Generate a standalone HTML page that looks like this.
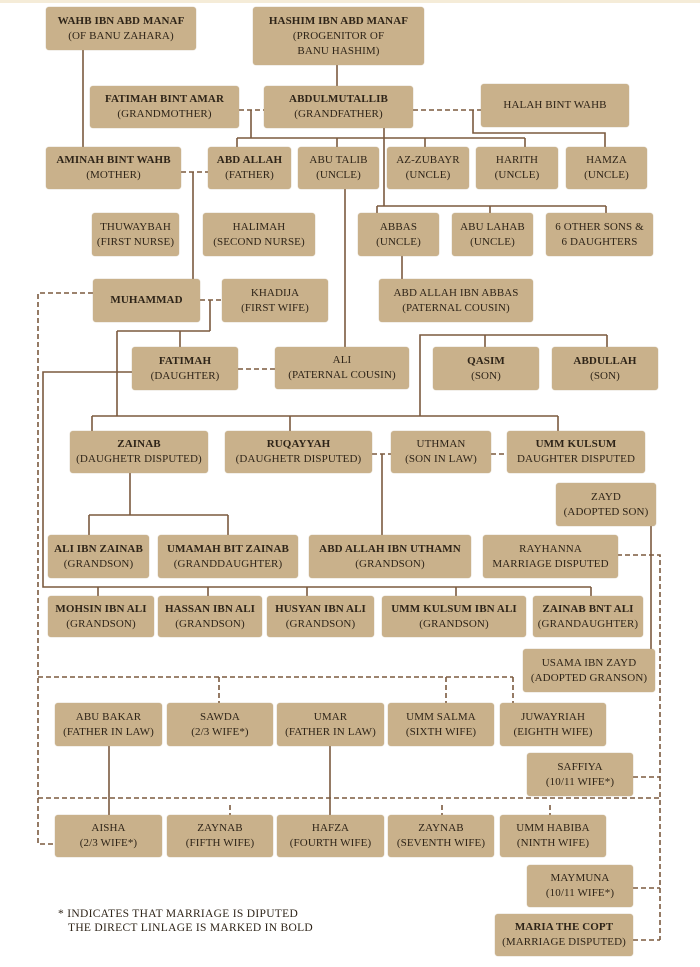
<!DOCTYPE html>
<html><head><meta charset="utf-8"><style>
body{margin:0;width:700px;height:967px;background:#fff;position:relative;overflow:hidden;font-family:"Liberation Serif",serif;}
.top{position:absolute;left:0;top:0;width:700px;height:3px;background:#f5ecd8;}
.b{position:absolute;background:#c9b18b;border-radius:3px;box-shadow:0 0 1px #b09a75;display:flex;flex-direction:column;justify-content:center;align-items:center;text-align:center;color:#2e2418;font-size:11px;line-height:15px;letter-spacing:0.1px;white-space:nowrap;}
.b b{font-weight:bold;}
svg{position:absolute;left:0;top:0;}
.leg{position:absolute;font-size:11.5px;color:#2e2418;letter-spacing:0.3px;white-space:nowrap;}
</style></head><body>
<div class="top"></div>
<svg width="700" height="967">
<g stroke="#7b5a3f" stroke-width="1.6" fill="none">
<path d="M83 50V147"/>
<path d="M337 65V86"/>
<path d="M251 110V138M237 138H525M237 138V147M337 138V147M425 138V147M525 138V147"/>
<path d="M473 110V133H605V147"/>
<path d="M384 128V206M377 206H606M377 206V213M490 206V213M606 206V213"/>
<path d="M402 256V279"/>
<path d="M193 172V279"/>
<path d="M210 300V331M117 331H210M180 331V347M117 331V416"/>
<path d="M345 189V347"/>
<path d="M420 416V335H607M485 335V347M607 335V347"/>
<path d="M92 416H558M92 416V431M290 416V431M558 416V431"/>
<path d="M382 454V535"/>
<path d="M130 473V515M89 515H228M89 515V535M228 515V535"/>
<path d="M132 372H43V587H591M98 587V596M208 587V596M307 587V596M456 587V596M591 587V596"/>
<path d="M651 526V649"/>
<path d="M109 746V815M330 746V815"/>
</g>
<g stroke="#7b5a3f" stroke-width="1.6" fill="none" stroke-dasharray="5,3">
<path d="M239 110H264"/>
<path d="M413 110H481"/>
<path d="M181 172H208"/>
<path d="M200 300H222"/>
<path d="M93 293H38V844H55"/>
<path d="M238 369H275"/>
<path d="M372 454H391M491 454H507"/>
<path d="M617 555H660V940"/>
<path d="M38 677H513M219 677V704M446 677V704M513 677V704"/>
<path d="M633 777H660"/>
<path d="M38 798H660M230 805V815M442 805V815M550 805V815"/>
<path d="M633 888H660"/>
<path d="M633 940H660"/>
</g>
</svg>
<div class="b" style="left:46px;top:7px;width:150px;height:43px"><b>WAHB IBN ABD MANAF</b>(OF BANU ZAHARA)</div>
<div class="b" style="left:253px;top:7px;width:171px;height:58px"><b>HASHIM IBN ABD MANAF</b>(PROGENITOR OF<br>BANU HASHIM)</div>
<div class="b" style="left:90px;top:86px;width:149px;height:42px"><b>FATIMAH BINT AMAR</b>(GRANDMOTHER)</div>
<div class="b" style="left:264px;top:86px;width:149px;height:42px"><b>ABDULMUTALLIB</b>(GRANDFATHER)</div>
<div class="b" style="left:481px;top:84px;width:148px;height:43px">HALAH BINT WAHB</div>
<div class="b" style="left:46px;top:147px;width:135px;height:42px"><b>AMINAH BINT WAHB</b>(MOTHER)</div>
<div class="b" style="left:208px;top:147px;width:83px;height:42px"><b>ABD ALLAH</b>(FATHER)</div>
<div class="b" style="left:298px;top:147px;width:81px;height:42px">ABU TALIB<br>(UNCLE)</div>
<div class="b" style="left:387px;top:147px;width:82px;height:42px">AZ-ZUBAYR<br>(UNCLE)</div>
<div class="b" style="left:476px;top:147px;width:82px;height:42px">HARITH<br>(UNCLE)</div>
<div class="b" style="left:566px;top:147px;width:81px;height:42px">HAMZA<br>(UNCLE)</div>
<div class="b" style="left:92px;top:213px;width:87px;height:43px">THUWAYBAH<br>(FIRST NURSE)</div>
<div class="b" style="left:203px;top:213px;width:112px;height:43px">HALIMAH<br>(SECOND NURSE)</div>
<div class="b" style="left:358px;top:213px;width:81px;height:43px">ABBAS<br>(UNCLE)</div>
<div class="b" style="left:452px;top:213px;width:81px;height:43px">ABU LAHAB<br>(UNCLE)</div>
<div class="b" style="left:546px;top:213px;width:107px;height:43px">6 OTHER SONS &amp;<br>6 DAUGHTERS</div>
<div class="b" style="left:93px;top:279px;width:107px;height:43px"><b>MUHAMMAD</b></div>
<div class="b" style="left:222px;top:279px;width:106px;height:43px">KHADIJA<br>(FIRST WIFE)</div>
<div class="b" style="left:379px;top:279px;width:154px;height:43px">ABD ALLAH IBN ABBAS<br>(PATERNAL COUSIN)</div>
<div class="b" style="left:132px;top:347px;width:106px;height:43px"><b>FATIMAH</b>(DAUGHTER)</div>
<div class="b" style="left:275px;top:347px;width:134px;height:42px">ALI<br>(PATERNAL COUSIN)</div>
<div class="b" style="left:433px;top:347px;width:106px;height:43px"><b>QASIM</b>(SON)</div>
<div class="b" style="left:552px;top:347px;width:106px;height:43px"><b>ABDULLAH</b>(SON)</div>
<div class="b" style="left:70px;top:431px;width:138px;height:42px"><b>ZAINAB</b>(DAUGHETR DISPUTED)</div>
<div class="b" style="left:225px;top:431px;width:147px;height:42px"><b>RUQAYYAH</b>(DAUGHETR DISPUTED)</div>
<div class="b" style="left:391px;top:431px;width:100px;height:42px">UTHMAN<br>(SON IN LAW)</div>
<div class="b" style="left:507px;top:431px;width:138px;height:42px"><b>UMM KULSUM</b>DAUGHTER DISPUTED</div>
<div class="b" style="left:556px;top:483px;width:100px;height:43px">ZAYD<br>(ADOPTED SON)</div>
<div class="b" style="left:48px;top:535px;width:101px;height:43px"><b>ALI IBN ZAINAB</b>(GRANDSON)</div>
<div class="b" style="left:158px;top:535px;width:140px;height:43px"><b>UMAMAH BIT ZAINAB</b>(GRANDDAUGHTER)</div>
<div class="b" style="left:309px;top:535px;width:162px;height:43px"><b>ABD ALLAH IBN UTHAMN</b>(GRANDSON)</div>
<div class="b" style="left:483px;top:535px;width:135px;height:43px">RAYHANNA<br>MARRIAGE DISPUTED</div>
<div class="b" style="left:48px;top:596px;width:106px;height:41px"><b>MOHSIN IBN ALI</b>(GRANDSON)</div>
<div class="b" style="left:158px;top:596px;width:104px;height:41px"><b>HASSAN IBN ALI</b>(GRANDSON)</div>
<div class="b" style="left:267px;top:596px;width:107px;height:41px"><b>HUSYAN IBN ALI</b>(GRANDSON)</div>
<div class="b" style="left:382px;top:596px;width:144px;height:41px"><b>UMM KULSUM IBN ALI</b>(GRANDSON)</div>
<div class="b" style="left:533px;top:596px;width:110px;height:41px"><b>ZAINAB BNT ALI</b>(GRANDAUGHTER)</div>
<div class="b" style="left:523px;top:649px;width:132px;height:43px">USAMA IBN ZAYD<br>(ADOPTED GRANSON)</div>
<div class="b" style="left:55px;top:703px;width:107px;height:43px">ABU BAKAR<br>(FATHER IN LAW)</div>
<div class="b" style="left:167px;top:703px;width:106px;height:43px">SAWDA<br>(2/3 WIFE*)</div>
<div class="b" style="left:277px;top:703px;width:107px;height:43px">UMAR<br>(FATHER IN LAW)</div>
<div class="b" style="left:388px;top:703px;width:106px;height:43px">UMM SALMA<br>(SIXTH WIFE)</div>
<div class="b" style="left:500px;top:703px;width:106px;height:43px">JUWAYRIAH<br>(EIGHTH WIFE)</div>
<div class="b" style="left:527px;top:753px;width:106px;height:43px">SAFFIYA<br>(10/11 WIFE*)</div>
<div class="b" style="left:55px;top:815px;width:107px;height:42px">AISHA<br>(2/3 WIFE*)</div>
<div class="b" style="left:167px;top:815px;width:106px;height:42px">ZAYNAB<br>(FIFTH WIFE)</div>
<div class="b" style="left:277px;top:815px;width:107px;height:42px">HAFZA<br>(FOURTH WIFE)</div>
<div class="b" style="left:388px;top:815px;width:106px;height:42px">ZAYNAB<br>(SEVENTH WIFE)</div>
<div class="b" style="left:500px;top:815px;width:106px;height:42px">UMM HABIBA<br>(NINTH WIFE)</div>
<div class="b" style="left:527px;top:865px;width:106px;height:42px">MAYMUNA<br>(10/11 WIFE*)</div>
<div class="b" style="left:495px;top:914px;width:138px;height:42px"><b>MARIA THE COPT</b>(MARRIAGE DISPUTED)</div>
<div class="leg" style="left:58px;top:908px">* INDICATES THAT MARRIAGE IS DIPUTED</div>
<div class="leg" style="left:68px;top:922px">THE DIRECT LINLAGE IS MARKED IN BOLD</div>
</body></html>
